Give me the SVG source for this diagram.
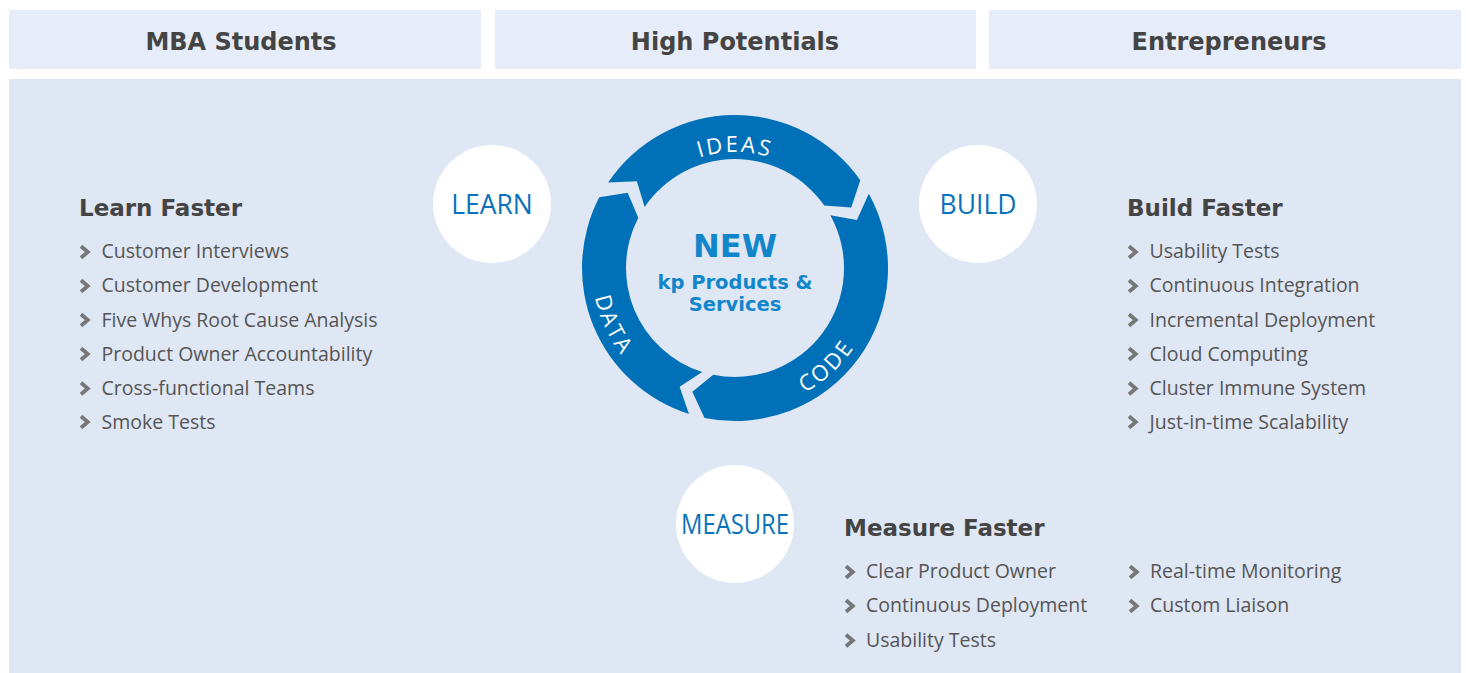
<svg xmlns="http://www.w3.org/2000/svg" width="1466" height="673" viewBox="0 0 1466 673">
<defs>
<style>
.hdr{font-family:"DejaVu Sans",sans-serif;font-weight:bold;font-size:24px;fill:#444444;text-anchor:middle}
.h2{font-family:"DejaVu Sans",sans-serif;font-weight:bold;font-size:23px;fill:#444444}
.li{font-family:"Open Sans","Liberation Sans",sans-serif;font-size:19.5px;fill:#555555}
.chev{fill:none;stroke:#777777;stroke-width:3.8;stroke-linejoin:miter}
.ring{fill:#0070b8}
.rl{font-family:"Open Sans","Liberation Sans",sans-serif;font-size:22px;fill:#ffffff;letter-spacing:2.5px}
.circ{fill:#ffffff}
.ct{font-family:"Open Sans","Liberation Sans",sans-serif;font-size:26.5px;fill:#0a72ba;text-anchor:middle}
.cen{font-family:"DejaVu Sans",sans-serif;font-weight:bold;fill:#1286ca;text-anchor:middle}
</style>
<path id="chv" class="chev" d="M0,-5.8 L6.8,0 L0,5.8"/>
<path id="pIdeas" d="M634.54,210 A116,116 0 0 1 835.46,210"/>
<path id="pData" d="M605.40,207.57 A143,143 0 0 0 697.99,406.13"/>
<path id="pCode" d="M717.57,409.93 A143,143 0 0 0 877.80,260.52"/>
</defs>
<rect width="1466" height="673" fill="#ffffff"/>
<g id="header-mba"><rect x="9" y="10" width="472" height="59" fill="#e7edf8"/><text class="hdr" x="241" y="50">MBA Students</text></g>
<g id="header-hp"><rect x="495" y="10" width="481" height="59" fill="#e7edf8"/><text class="hdr" x="735" y="50">High Potentials</text></g>
<g id="header-ent"><rect x="989" y="10" width="472" height="59" fill="#e7edf8"/><text class="hdr" x="1229" y="50">Entrepreneurs</text></g>
<rect id="panel" x="9" y="79" width="1452" height="594" fill="#dfe6f4"/>
<g id="cycle">
<path class="ring" d="M608.16,182.44 A153,153 0 0 1 860.33,180.24 L851.20,207.52 L824.29,205.48 A109,109 0 0 0 644.64,207.05 L636.88,181.20 Z"/>
<path class="ring" d="M868.82,193.82 A153,153 0 0 1 704.49,417.93 L692.35,391.86 L713.27,374.81 A109,109 0 0 0 830.33,215.16 L856.88,219.99 Z"/>
<path class="ring" d="M688.99,413.92 A153,153 0 0 1 599.29,197.36 L627.69,192.86 L638.32,217.67 A109,109 0 0 0 702.22,371.95 L679.64,386.73 Z"/>
<text class="rl"><textPath href="#pIdeas" startOffset="50%" text-anchor="middle">IDEAS</textPath></text>
<text class="rl"><textPath href="#pData" startOffset="50%" text-anchor="middle">DATA</textPath></text>
<text class="rl"><textPath href="#pCode" startOffset="50%" text-anchor="middle">CODE</textPath></text>
<text class="cen" x="735" y="257" font-size="32">NEW</text>
<text class="cen" x="735" y="289" font-size="19.5">kp Products &amp;</text>
<text class="cen" x="735" y="311" font-size="19.5">Services</text>
</g>
<g id="learn"><circle class="circ" cx="492" cy="204" r="59"/><text class="ct" x="492" y="214">LEARN</text></g>
<g id="build"><circle class="circ" cx="978" cy="204" r="59"/><text class="ct" x="978" y="214">BUILD</text></g>
<g id="measure"><circle class="circ" cx="735" cy="524" r="59"/><text class="ct" x="735" y="534" textLength="108" lengthAdjust="spacingAndGlyphs">MEASURE</text></g>
<g id="learn-faster">
<text class="h2" x="79" y="216">Learn Faster</text>
<use href="#chv" x="81" y="252"/><text class="li" x="101.5" y="258">Customer Interviews</text>
<use href="#chv" x="81" y="286"/><text class="li" x="101.5" y="292">Customer Development</text>
<use href="#chv" x="81" y="320"/><text class="li" x="101.5" y="326.5">Five Whys Root Cause Analysis</text>
<use href="#chv" x="81" y="354"/><text class="li" x="101.5" y="360.5">Product Owner Accountability</text>
<use href="#chv" x="81" y="388.5"/><text class="li" x="101.5" y="394.5">Cross-functional Teams</text>
<use href="#chv" x="81" y="422"/><text class="li" x="101.5" y="428.5">Smoke Tests</text>
</g>
<g id="build-faster">
<text class="h2" x="1127" y="216">Build Faster</text>
<use href="#chv" x="1129" y="252"/><text class="li" x="1149.5" y="258">Usability Tests</text>
<use href="#chv" x="1129" y="286"/><text class="li" x="1149.5" y="292">Continuous Integration</text>
<use href="#chv" x="1129" y="320"/><text class="li" x="1149.5" y="326.5">Incremental Deployment</text>
<use href="#chv" x="1129" y="354"/><text class="li" x="1149.5" y="360.5">Cloud Computing</text>
<use href="#chv" x="1129" y="388.5"/><text class="li" x="1149.5" y="394.5">Cluster Immune System</text>
<use href="#chv" x="1129" y="422"/><text class="li" x="1149.5" y="428.5">Just-in-time Scalability</text>
</g>
<g id="measure-faster">
<text class="h2" x="844" y="536">Measure Faster</text>
<use href="#chv" x="846" y="572"/><text class="li" x="866" y="578">Clear Product Owner</text>
<use href="#chv" x="846" y="606"/><text class="li" x="866" y="612">Continuous Deployment</text>
<use href="#chv" x="846" y="640.5"/><text class="li" x="866" y="646.5">Usability Tests</text>
<use href="#chv" x="1130" y="572"/><text class="li" x="1150" y="578">Real-time Monitoring</text>
<use href="#chv" x="1130" y="606"/><text class="li" x="1150" y="612">Custom Liaison</text>
</g>
<g id="connectors"/>
</svg>
